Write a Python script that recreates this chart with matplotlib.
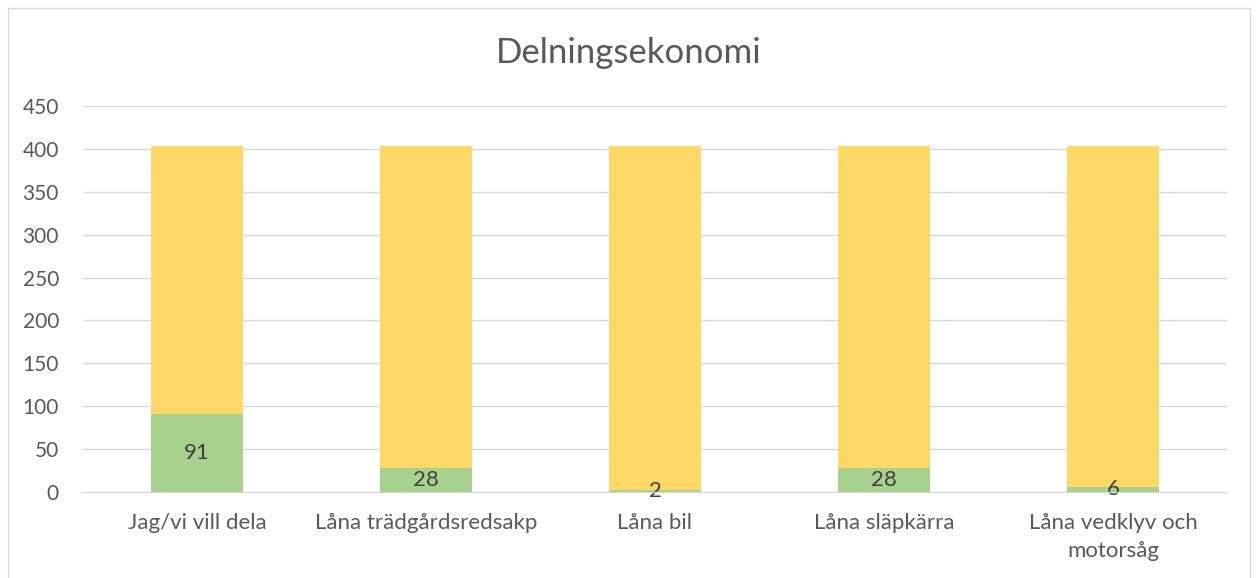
import numpy as np
import matplotlib.pyplot as plt
from matplotlib.patches import Rectangle

categories = ['Jag/vi vill dela', 'Låna trädgårdsredsakp', 'Låna bil',
              'Låna släpkärra', 'Låna vedklyv och\nmotorsåg']
ja = [91, 28, 2, 28, 6]
nej = [312, 375, 401, 375, 397]
yticks = [0, 50, 100, 150, 200, 250, 300, 350, 400, 450]

GREEN = '#A9D18E'
YELLOW = '#FFD966'
TXT = '#595959'

plt.rcParams['font.family'] = ['Lato', 'DejaVu Sans']

fig = plt.figure(figsize=(12.58, 5.78), dpi=100)
ax = fig.add_axes([0.0656, 0.1488, 0.9101, 0.6678])

x = np.arange(len(categories))
ax.bar(x, ja, width=0.4, color=GREEN, zorder=3)
ax.bar(x, nej, width=0.4, bottom=ja, color=YELLOW, zorder=3)

for xi, v in zip(x, ja):
    ax.text(xi, v / 2, str(v), ha='center', va='center', fontsize=16,
            color='#404040', zorder=4)

ax.set_xlim(-0.5, len(categories) - 0.5)
ax.set_ylim(0, 450)
ax.set_yticks(yticks)
ax.set_xticks(x)
ax.set_xticklabels(categories, fontsize=16, color=TXT, linespacing=1.5)
ax.tick_params(axis='y', labelsize=15, labelcolor=TXT, length=0, pad=17)
ax.tick_params(axis='x', length=0, pad=15)
ax.grid(axis='y', color='#D9D9D9', linewidth=1, zorder=0)
for s in ['top', 'right', 'left']:
    ax.spines[s].set_visible(False)
ax.spines['bottom'].set_color('#D9D9D9')
ax.spines['bottom'].set_zorder(5)

fig.text(0.5, 0.908, 'Delningsekonomi', ha='center', va='center',
         fontsize=25, color=TXT)

# chart frame
fig.patches.append(Rectangle((8 / 1258, -0.05), 1242 / 1258, 1.05 - 8 / 578,
                             transform=fig.transFigure, fill=False,
                             edgecolor='#D9D9D9', linewidth=1))

fig.savefig('out.png', dpi=100)
